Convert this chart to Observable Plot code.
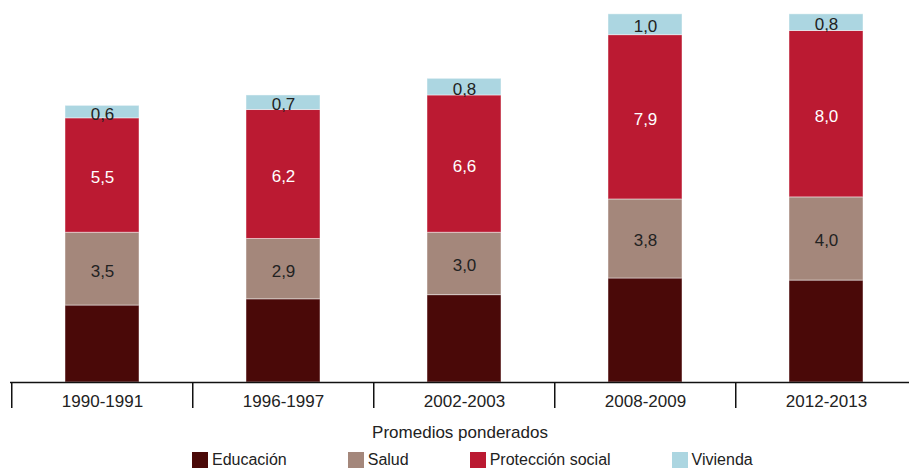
<!DOCTYPE html>
<html>
<head>
<meta charset="utf-8">
<script src="https://cdn.jsdelivr.net/npm/d3@7"></script>
<script src="https://cdn.jsdelivr.net/npm/@observablehq/plot@0.6"></script>
<style>
  html, body { margin: 0; padding: 0; background: #fff; }
  #wrap { width: 909px; height: 468px; overflow: hidden; font-family: "Liberation Sans Narrow", "Arial Narrow", "Liberation Sans", sans-serif; }
  #wrap svg { display: block; }
  .legend { display: flex; align-items: center; margin-top: 8px; padding-left: 192px; font-size: 16px; line-height: 16px; color: #222; }
  .legend .item { display: flex; align-items: center; margin-right: 61px; }
  .legend .sw { width: 16px; height: 16px; margin-right: 4px; }
</style>
</head>
<body>
<div id="wrap"></div>
<script>
const periods = ["1990-1991", "1996-1997", "2002-2003", "2008-2009", "2012-2013"];
const educacion = [3.7, 4.0, 4.2, 5.0, 4.9];
const salud = [3.5, 2.9, 3.0, 3.8, 4.0];
const proteccion = [5.5, 6.2, 6.6, 7.9, 8.0];
const vivienda = [0.6, 0.7, 0.8, 1.0, 0.8];
const seriesNames = ["Educación", "Salud", "Protección social", "Vivienda"];
const seriesColors = ["#4a0908", "#a4877b", "#bb1a32", "#acd6e1"];
const axisTitle = "Promedios ponderados";

const seriesValues = [educacion, salud, proteccion, vivienda];
const data = [];
periods.forEach((p, i) => {
  seriesNames.forEach((s, j) => data.push({period: p, series: s, value: seriesValues[j][i]}));
});
const fmt = v => d3.format(".1f")(v).replace(".", ",");
const font = "'Liberation Sans Narrow', 'Arial Narrow', 'Liberation Sans', sans-serif";

const chart = Plot.plot({
  width: 909,
  height: 444,
  marginLeft: 10,
  marginRight: 0,
  marginTop: 0,
  marginBottom: 62,
  style: {fontFamily: font, fontSize: "17px", color: "#222", background: "#fff"},
  x: {domain: periods, range: [10, 917.5], paddingInner: 0.592, paddingOuter: 0.296, label: null},
  y: {domain: [0, 18], range: [382, 7.6], axis: null},
  color: {domain: seriesNames, range: seriesColors},
  marks: [
    Plot.barY(data, Plot.stackY({x: "period", y: "value", z: "series", fill: "series", stroke: "#fff", strokeOpacity: 0.45, strokeWidth: 1})),
    Plot.text(data, Plot.stackY({x: "period", y: "value", z: "series",
      text: d => (d.series === "Salud" || d.series === "Vivienda") ? fmt(d.value) : "",
      fill: "#222", fontSize: 17, dy: 2})),
    Plot.text(data, Plot.stackY({x: "period", y: "value", z: "series",
      text: d => d.series === "Protección social" ? fmt(d.value) : "",
      fill: "#fff", fontSize: 17, dy: 2})),
    Plot.ruleY([0], {stroke: "#111", strokeWidth: 1.5}),
    Plot.axisX({tickSize: 26, tickFormat: () => "", label: null, dx: -90.75, stroke: "#111", strokeWidth: 1.5}),
    Plot.axisX({tickSize: 0, tickPadding: 12, fontSize: 17, fill: "#222", label: axisTitle, labelAnchor: "center", labelArrow: "none", labelOffset: 55})
  ]
});
document.getElementById("wrap").appendChild(chart);

const legend = document.createElement("div");
legend.className = "legend";
seriesNames.forEach((s, j) => {
  const item = document.createElement("div");
  item.className = "item";
  const sw = document.createElement("span");
  sw.className = "sw";
  sw.style.background = seriesColors[j];
  const lab = document.createElement("span");
  lab.textContent = s;
  item.appendChild(sw);
  item.appendChild(lab);
  legend.appendChild(item);
});
document.getElementById("wrap").appendChild(legend);
</script>
</body>
</html>
